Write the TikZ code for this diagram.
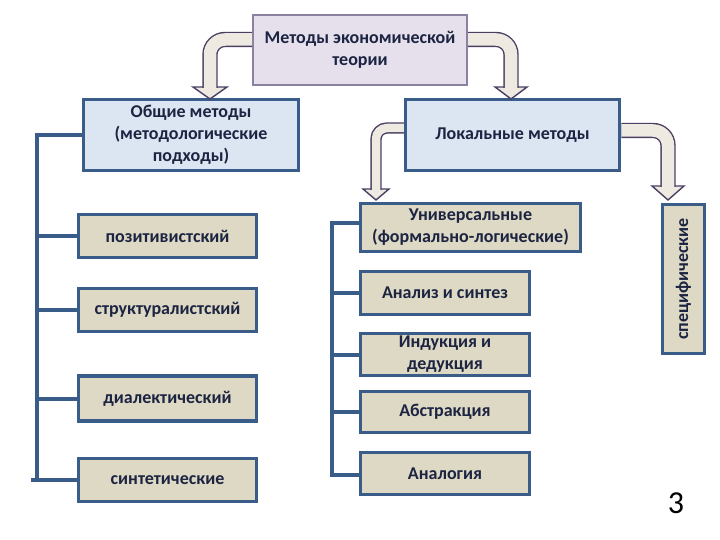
\documentclass[tikz,border=0pt]{standalone}
\usepackage{fontspec}
\setmainfont{Carlito}
\usepackage{xcolor}
\definecolor{topFill}{HTML}{E5E0EC}
\definecolor{topLine}{HTML}{8A82A0}
\definecolor{blueFill}{HTML}{DCE6F2}
\definecolor{blueLine}{HTML}{3A5C88}
\definecolor{tanFill}{HTML}{DDD9C4}
\definecolor{arrowFill}{HTML}{EEEAE2}
\definecolor{arrowLine}{HTML}{4B4063}
\definecolor{inkText}{HTML}{1C2442}
\usetikzlibrary{calc}
\tikzset{
    boxtext/.style={font=\fontsize{18}{22}\selectfont\bfseries,text=inkText,align=center,inner sep=0pt},
    topbox/.style={boxtext,draw=topLine,fill=topFill,line width=2pt},
    bluebox/.style={boxtext,draw=blueLine,fill=blueFill,line width=3.5pt},
    tanbox/.style={boxtext,draw=blueLine,fill=tanFill,line width=3.5pt},
    bracket/.style={draw=blueLine,line width=4pt},
    shaft/.style={draw=arrowLine,line width=1.4pt,double=arrowFill},
    arrowhead/.style={draw=arrowLine,fill=arrowFill,line width=1.4pt,line join=miter}
}

\begin{document}
\begin{tikzpicture}[x=1pt,y=-1pt]
  \useasboundingbox[fill=white] (0,0) rectangle (720,540);

  % boxes of the top two levels
  \node[topbox,minimum width=214,minimum height=70] (theory) at (360,50)
    {Методы экономической\\теории};
  \node[bluebox,minimum width=215,minimum height=71] (general) at (191,135)
    {Общие методы\\(методологические\\подходы)};
  \node[bluebox,minimum width=214,minimum height=71] (local) at (512.5,135)
    {Локальные методы};

  % general methods
  \node[tanbox,minimum width=178,minimum height=43] (posit) at (167.5,236) {позитивистский};
  \node[tanbox,minimum width=178,minimum height=43] (struct) at (167.5,310) {структуралистский};
  \node[tanbox,minimum width=178,minimum height=45] (dialect) at (167.5,398.5) {диалектический};
  \node[tanbox,minimum width=178,minimum height=43] (synth) at (167.5,480) {синтетические};

  % local methods
  \node[tanbox,minimum width=220,minimum height=48] (univ) at (470.5,227.5)
    {Универсальные\\(формально-логические)};
  \node[tanbox,minimum width=169,minimum height=43] (analysis) at (445,293) {Анализ и синтез};
  \node[tanbox,minimum width=169,minimum height=42] (induct) at (445,354.5) {Индукция и\\дедукция};
  \node[tanbox,minimum width=169,minimum height=41] (abstr) at (445,412) {Абстракция};
  \node[tanbox,minimum width=169,minimum height=42] (analog) at (445,473.5) {Аналогия};
  \node[tanbox,minimum width=149,minimum height=42,rotate=90] (specific) at (683.5,279) {специфические};

  % page number
  \node[font=\fontsize{32}{36}\selectfont,inner sep=0pt] (pagenum) at (676,503) {3};

  % left bracket
  \coordinate (lbot) at (37,480);
  \coordinate (lend) at (31,480);
  \draw[bracket] (general.west) -| (lbot);
  \draw[bracket] (synth.west) -- (lend);
  \foreach \b in {posit,struct,dialect}
    \draw[bracket] (\b.west) -- (\b.west -| lbot);

  % right bracket
  \coordinate (rtop) at (332,223);
  \coordinate (rbot) at (332,475);
  \draw[bracket] (univ.west |- rtop) -- (rtop) -- (rbot) -- (analog.west |- rbot);
  \foreach \b in {analysis,induct,abstr}
    \draw[bracket] (\b.west) -- (\b.west -| rtop);

  % bent arrows: head first, then shaft over its base
  \filldraw[arrowhead] (193,87) -- (227,87) -- (210,99) -- cycle;
  \draw[shaft,double distance=12.5pt,rounded corners=15pt]
    (theory.west |- 0,39.5) -| (210,88);

  \filldraw[arrowhead] (495,87) -- (527,87) -- (511,99) -- cycle;
  \draw[shaft,double distance=12.5pt,rounded corners=15pt]
    (theory.east |- 0,39.5) -| (511,88);

  \filldraw[arrowhead] (363,189) -- (389,189) -- (376,200) -- cycle;
  \draw[shaft,double distance=8.5pt,rounded corners=11pt]
    (local.west |- 0,128) -| (376,190);

  \filldraw[arrowhead] (652,186) -- (684,186) -- (668,200) -- cycle;
  \draw[shaft,double distance=12.5pt,rounded corners=15pt]
    (local.east |- 0,130.5) -| (668,187);
\end{tikzpicture}
\end{document}
